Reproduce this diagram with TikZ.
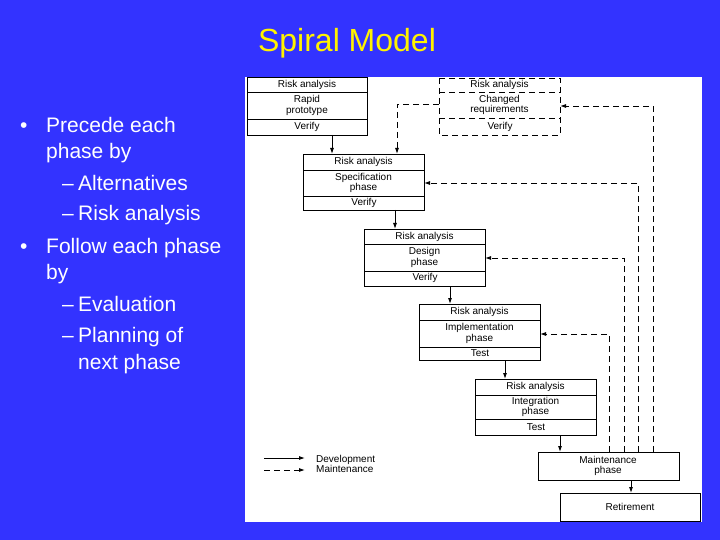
\documentclass[tikz,border=0pt]{standalone}
\usepackage{fontspec}
\setmainfont{Liberation Sans}
\usetikzlibrary{arrows.meta}
\definecolor{bg}{RGB}{51,51,255}
\begin{document}
\begin{tikzpicture}[x=1pt,y=-1pt,
  box/.style={draw,line width=0.9pt},
  lbl/.style={font=\fontsize{10}{10.5}\selectfont,align=center},
  dev/.style={line width=0.9pt,-{Latex[length=6pt,width=4pt]}},
  mnt/.style={line width=0.9pt,dash pattern=on 6pt off 4pt,-{Latex[length=6pt,width=4pt]}},
  bt/.style={white,anchor=base west,inner sep=0pt,font=\fontsize{21}{21}\selectfont}]
\fill[bg] (0,0) rectangle (720,540);
\useasboundingbox (0,0) rectangle (720,540);
\fill[white] (245,77) rectangle (702,522);
\node[text=yellow,font=\fontsize{32}{32}\selectfont,anchor=base] (title) at (347,52) {Spiral Model};
% bullets
\node[bt] (b1) at (20,133) {•}; \node[bt] (t1) at (46,133) {Precede each};
\node[bt] (t2) at (46,159) {phase by};
\node[bt] (d1) at (62,191) {–}; \node[bt] (t3) at (78,191) {Alternatives};
\node[bt] (d2) at (62,221) {–}; \node[bt] (t4) at (78,221) {Risk analysis};
\node[bt] (b2) at (20,253) {•}; \node[bt] (t5) at (46,253) {Follow each phase};
\node[bt] (t6) at (46,279) {by};
\node[bt] (d3) at (62,311) {–}; \node[bt] (t7) at (78,311) {Evaluation};
\node[bt] (d4) at (62,342) {–}; \node[bt] (t8) at (78,342) {Planning of};
\node[bt] (t9) at (78,369) {next phase};
% boxes: macro
\newcommand{\phbox}[9]{% name, x1, x2, y1, ya, yb, y2, mid, bottom text
  \draw[box,#9] (#2,#4) rectangle (#3,#7);
  \draw[box,#9] (#2,#5) -- (#3,#5) (#2,#6) -- (#3,#6);
  \node[lbl] (#1r) at ({(#2+#3)/2},{(#4+#5)/2}) {Risk analysis};
  \node[lbl] (#1m) at ({(#2+#3)/2},{(#5+#6)/2}) {#8};
  \coordinate (#1t) at ({(#2+#3)/2},#4);
  \coordinate (#1b) at ({(#2+#3)/2},#7);
}
\phbox{a}{247}{367}{77}{92}{119}{135}{Rapid\\prototype}{solid}
\node[lbl] (av) at (307,127) {Verify};
\phbox{c}{439}{560}{78}{92}{118}{135}{Changed\\requirements}{dash pattern=on 6pt off 4pt}
\node[lbl] (cv) at (500,127) {Verify};
\phbox{s}{303}{424}{154}{170}{196}{210}{Specification\\phase}{solid}
\node[lbl] (sv) at (364,203) {Verify};
\phbox{d}{364}{485}{229}{244}{271}{286}{Design\\phase}{solid}
\node[lbl] (dv) at (425,278) {Verify};
\phbox{i}{419}{540}{304}{320}{347}{360}{Implementation\\phase}{solid}
\node[lbl] (iv) at (480,353) {Test};
\phbox{g}{475}{596}{379}{395}{419}{435}{Integration\\phase}{solid}
\node[lbl] (gv) at (536,427) {Test};
\draw[box] (538,452) rectangle (679,480);
\node[lbl] (m) at (608,466) {Maintenance\\phase};
\draw[box] (560,493) rectangle (700,521);
\node[lbl] (r) at (630,507) {Retirement};
% development arrows
\draw[dev] (332,135) -- (332,154);
\draw[dev] (395,210) -- (395,229);
\draw[dev] (450,286) -- (450,304);
\draw[dev] (505,360) -- (505,379);
\draw[dev] (560,435) -- (560,452);
\draw[dev] (631,480) -- (631,493);
% maintenance arrows
\draw[mnt] (439,104) -- (397,104) -- (397,154);
\draw[mnt] (653,452) -- (653,106) -- (560,106);
\draw[mnt] (638,452) -- (638,183) -- (424,183);
\draw[mnt] (624,452) -- (624,258) -- (485,258);
\draw[mnt] (609,452) -- (609,334) -- (540,334);
% legend
\coordinate (l1a) at (264,458); \coordinate (l1b) at (305,458);
\coordinate (l2a) at (264,470); \coordinate (l2b) at (305,470);
\draw[dev] (l1a) -- (l1b);
\draw[mnt] (l2a) -- (l2b);
\node[lbl,anchor=west,align=left,inner sep=0pt] (leg) at (316,464) {Development\\Maintenance};
\end{tikzpicture}
\end{document}
